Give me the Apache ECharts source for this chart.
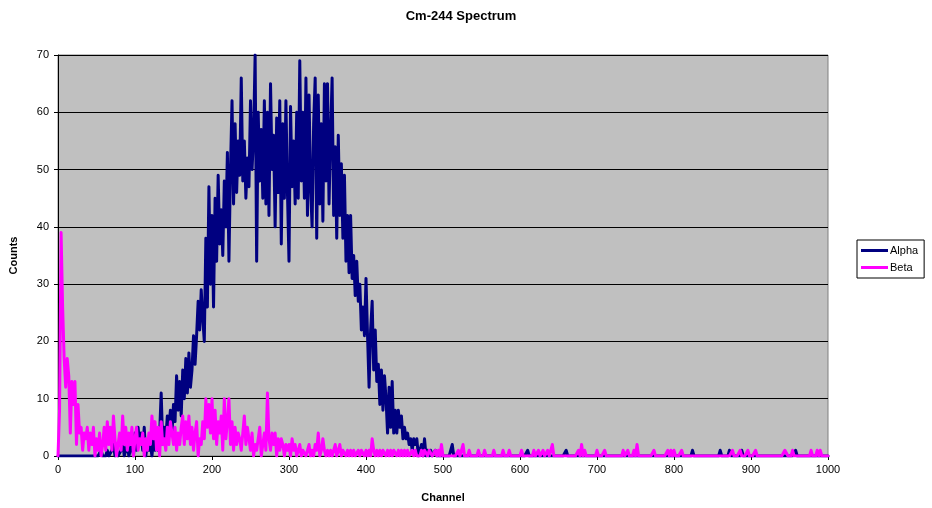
<!DOCTYPE html>
<html>
<head>
<meta charset="utf-8">
<script src="https://cdn.jsdelivr.net/npm/echarts@6/dist/echarts.min.js"></script>
<style>
  html, body { margin: 0; padding: 0; background: #ffffff; }
  #chart { width: 932px; height: 508px; }
</style>
</head>
<body>
<div id="chart"></div>
<script>
// Channel spacing of the count arrays below (counts start at channel 0).
const CHANNEL_STEP = 2;
const CHANNEL_MAX = 1000;

// Alpha counts, channels 0..498 in steps of 2.
const alphaCounts = [
  0, 0, 0, 0, 0,   0, 0, 0, 0, 0,   0, 0, 0, 0, 0,   0, 0, 0, 0, 0,
  0, 0, 0, 0, 0,   0, 0, 0, 1, 0,   0, 0, 1, 0, 0,   1, 2, 0, 1, 0,
  0, 1, 3, 0, 1,   2, 0, 1, 3, 0,   4, 1, 5, 2, 4,   1, 5, 0, 2, 1,
  2, 0, 3, 1, 2,   1, 4, 11, 2, 5,  3, 7, 5, 8, 4,   9, 6, 14, 8, 13,
  7, 15, 10, 17, 11,  18, 12, 15, 21, 16,  21, 27, 22, 29, 24,  20, 38, 26, 47, 30,
  42, 26, 45, 34, 49,  37, 43, 35, 48, 40,  53, 34, 50, 62, 44,  58, 46, 55, 49, 66,
  48, 55, 45, 52, 47,  62, 50, 56, 70, 34,  60, 48, 57, 45, 62,  44, 60, 42, 65, 50,
  56, 40, 59, 46, 62,  37, 58, 45, 62, 46,  34, 61, 47, 55, 44,  60, 45, 69, 48, 60,
  45, 66, 42, 63, 47,  40, 58, 66, 38, 63,  44, 58, 41, 65, 48,  65, 44, 56, 66, 42,
  54, 38, 56, 42, 51,  38, 49, 34, 42, 32,  42, 31, 35, 28, 34,  27, 30, 22, 26, 21,
  31, 21, 12, 22, 27,  15, 22, 13, 16, 9,   15, 8, 14, 10, 4,   12, 5, 13, 4, 8,
  4, 8, 5, 7, 3,   5, 3, 4, 2, 3,   1, 3, 2, 3, 0,   1, 2, 0, 3, 0,
  1, 0, 1, 0, 0,   1, 0, 0, 0, 0
];

// Beta counts, channels 0..498 in steps of 2.
const betaCounts = [
  0, 8, 39, 26, 17,  12, 17, 14, 4, 13,  9, 13, 2, 9, 4,  5, 1, 4, 3, 5,
  1, 4, 2, 5, 0,   3, 1, 4, 0, 2,   5, 1, 6, 2, 5,   1, 7, 3, 0, 2,
  4, 1, 7, 2, 5,   1, 4, 2, 5, 0,   3, 5, 1, 3, 2,   4, 0, 3, 1, 4,
  2, 7, 3, 6, 1,   5, 0, 6, 2, 3,   1, 5, 2, 6, 4,   2, 5, 1, 4, 2,
  5, 7, 2, 6, 3,   7, 2, 5, 1, 4,   6, 0, 3, 2, 6,   3, 10, 5, 9, 4,
  10, 3, 8, 2, 6,  4, 7, 1, 10, 3,  6, 10, 2, 6, 1,  5, 2, 4, 3, 1,
  4, 7, 2, 5, 3,   1, 4, 0, 2, 1,   3, 5, 0, 2, 4,   1, 11, 3, 1, 4,
  2, 4, 0, 3, 1,   3, 2, 0, 2, 1,   2, 0, 3, 1, 2,   0, 1, 2, 0, 1,
  1, 0, 1, 2, 0,   1, 0, 2, 1, 4,   0, 1, 3, 1, 0,   1, 0, 1, 0, 1,
  2, 0, 1, 2, 0,   1, 1, 0, 1, 0,   1, 0, 1, 0, 0,   1, 0, 1, 1, 0,
  1, 0, 1, 0, 3,   1, 0, 1, 0, 1,   0, 1, 1, 0, 1,   0, 1, 0, 1, 1,
  0, 1, 0, 1, 0,   1, 0, 1, 0, 0,   1, 0, 1, 0, 0,   0, 1, 0, 1, 1,
  0, 1, 1, 0, 0,   1, 0, 1, 0, 2
];

// Above channel 500 the spectrum is almost empty: only the non-zero channels.
const alphaTail = [[512, 2], [610, 1], [660, 1], [824, 1], [860, 1], [872, 1], [888, 1], [958, 1]];
const betaTail = [
  [520, 1], [526, 2], [534, 1], [546, 1], [554, 1], [566, 1], [578, 1], [586, 1],
  [602, 1], [618, 1], [624, 1], [630, 1], [636, 1], [642, 2], [676, 1], [680, 2],
  [684, 1], [700, 1], [710, 1], [734, 1], [740, 1], [748, 1], [752, 2], [774, 1],
  [792, 1], [796, 1], [800, 1], [810, 1], [876, 1], [886, 1], [896, 1], [906, 1],
  [944, 1], [946, 1], [954, 1], [978, 1], [986, 1], [990, 1]
];

const yTicks = [0, 10, 20, 30, 40, 50, 60, 70];
const xTicks = [0, 100, 200, 300, 400, 500, 600, 700, 800, 900, 1000];

// Combine the dense low-channel counts with the sparse tail into [channel, count] pairs.
function spectrum(counts, tail) {
  const extra = new Map(tail);
  const pts = [];
  for (let ch = 0; ch <= CHANNEL_MAX; ch += CHANNEL_STEP) {
    const i = ch / CHANNEL_STEP;
    let v = i < counts.length ? counts[i] : 0;
    if (extra.has(ch)) v = extra.get(ch);
    pts.push([ch, v]);
  }
  return pts;
}

const FONT = '"Liberation Sans", Arial, sans-serif';
const chart = echarts.init(document.getElementById('chart'), null, { renderer: 'canvas' });

chart.setOption({
  animation: false,
  backgroundColor: '#ffffff',
  title: {
    text: 'Cm-244 Spectrum',
    left: 456,
    top: 5,
    textAlign: 'center',
    textStyle: { fontFamily: FONT, fontSize: 13, fontWeight: 'bold', color: '#000000' }
  },
  legend: {
    orient: 'vertical',
    left: 857,
    top: 240,
    padding: [5, 6, 5, 4],
    itemGap: 6,
    itemWidth: 27,
    itemHeight: 3,
    backgroundColor: '#ffffff',
    borderColor: '#000000',
    borderWidth: 1,
    borderRadius: 0,
    textStyle: { fontFamily: FONT, fontSize: 11, color: '#000000', padding: [0, 0, 0, -3] },
    data: [
      { name: 'Alpha', icon: 'rect' },
      { name: 'Beta', icon: 'rect' }
    ]
  },
  grid: {
    left: 58,
    top: 55,
    width: 770,
    height: 405,
    show: true,
    backgroundColor: '#C0C0C0',
    borderColor: '#808080',
    borderWidth: 1
  },
  xAxis: {
    type: 'value',
    min: xTicks[0],
    max: xTicks[xTicks.length - 1],
    interval: 100,
    name: 'Channel',
    nameLocation: 'middle',
    nameGap: 36,
    nameTextStyle: { fontFamily: FONT, fontSize: 11, fontWeight: 'bold', color: '#000000' },
    axisLine: { show: true, lineStyle: { color: '#000000', width: 1 } },
    axisTick: { show: true, inside: false, length: 4, lineStyle: { color: '#000000' } },
    axisLabel: {
      fontFamily: FONT, fontSize: 11, color: '#000000', margin: 8,
      formatter: (v) => String(v)
    },
    splitLine: { show: false }
  },
  yAxis: {
    type: 'value',
    min: yTicks[0],
    max: yTicks[yTicks.length - 1],
    interval: 10,
    name: 'Counts',
    nameLocation: 'middle',
    nameGap: 39,
    nameRotate: 90,
    nameTextStyle: { fontFamily: FONT, fontSize: 11, fontWeight: 'bold', color: '#000000' },
    axisLine: { show: true, lineStyle: { color: '#000000', width: 1 } },
    axisTick: { show: true, inside: false, length: 4, lineStyle: { color: '#000000' } },
    axisLabel: { fontFamily: FONT, fontSize: 11, color: '#000000', margin: 9 },
    splitLine: { show: true, lineStyle: { color: '#000000', width: 1 } }
  },
  series: [
    {
      name: 'Alpha',
      type: 'line',
      data: spectrum(alphaCounts, alphaTail),
      showSymbol: false,
      symbol: 'none',
      color: '#000080',
      lineStyle: { color: '#000080', width: 3, join: 'round', cap: 'round' },
      z: 2
    },
    {
      name: 'Beta',
      type: 'line',
      data: spectrum(betaCounts, betaTail),
      showSymbol: false,
      symbol: 'none',
      color: '#FF00FF',
      lineStyle: { color: '#FF00FF', width: 3, join: 'round', cap: 'round' },
      z: 3
    }
  ]
});
</script>
</body>
</html>
